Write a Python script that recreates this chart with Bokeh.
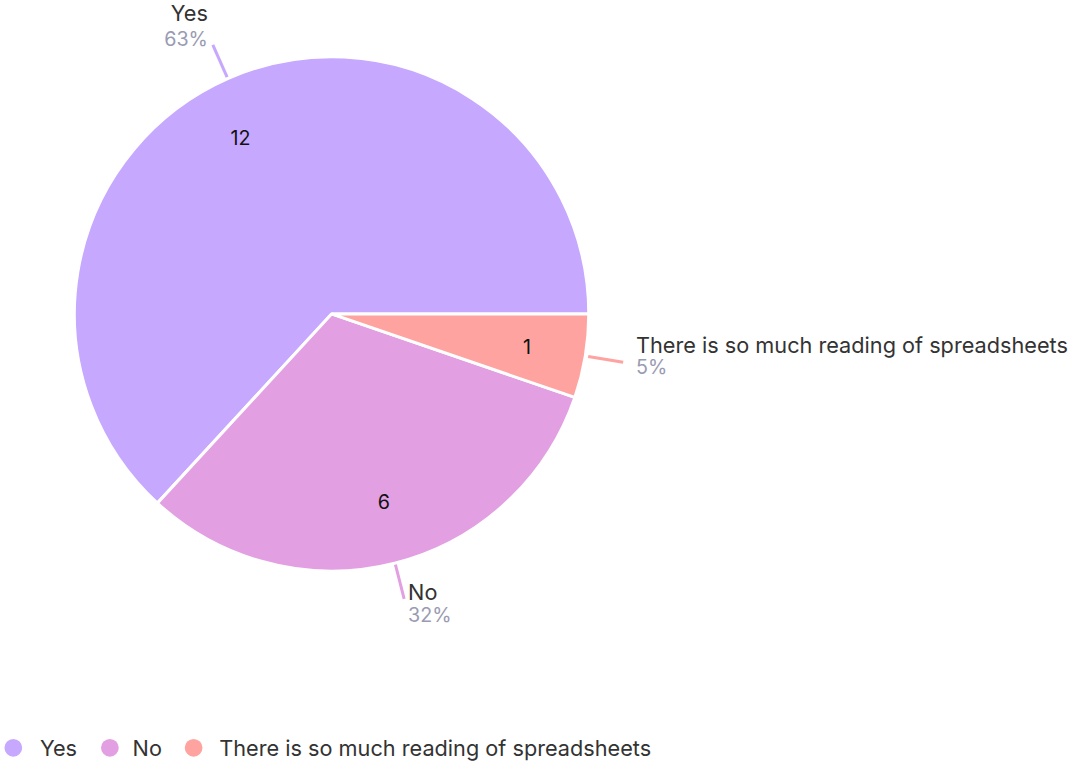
import math
from bokeh.plotting import figure
from bokeh.models import Range1d, ColumnDataSource
from bokeh.core.properties import value
from bokeh.embed import file_html
from bokeh.resources import INLINE

# ---- data ----
categories = ["Yes", "No", "There is so much reading of spreadsheets"]
counts = [12, 6, 1]
colors = ["#C6A8FE", "#E29FE2", "#FEA39F"]

# ---- layout / style (reference pixel units, y measured from top) ----
FONT = "Inter"
W, H = 1076, 762
REF_W, REF_H = 1092, 778
S = W / REF_W


def fs(px_size):
    return f"{px_size * S:.1f}px"


def ry(ref_y):
    # data y from reference top-down pixel
    return REF_H - ref_y


CX, CY, R = 336, ry(320), 261
INNER_R = 200
LEAD_R0, LEAD_R1 = 264, 300
# inner label nudges (dx, dy down)
INNER_NUDGE = [(-12, 3), (4, -2), (1, 0)]
# outer label offsets from leader end: dx, name dy (down), pct dy (down), align
LABEL_STYLE = [
    (-5, -32, -6, "right"),
    (4, -7, 17, "left"),
    (13, -18, 5, "left"),
]
LEGEND_Y = 763
LEGEND_CIRCLE_X = [13, 111, 196]
LEGEND_TEXT_X = [40, 134, 222]

total = sum(counts)
starts, ends, mids = [], [], []
acc = 0.0
for c in counts:
    a0 = acc / total * 2 * math.pi
    acc += c
    a1 = acc / total * 2 * math.pi
    starts.append(a0)
    ends.append(a1)
    mids.append((a0 + a1) / 2)
percents = [f"{round(c / total * 100)}%" for c in counts]

p = figure(width=W, height=H, x_range=Range1d(0, REF_W), y_range=Range1d(0, REF_H),
           output_backend="svg", toolbar_location=None, min_border=0)
p.axis.visible = False
p.grid.visible = False
p.outline_line_color = None
p.background_fill_color = "white"
p.border_fill_color = "white"

src = ColumnDataSource(dict(start=starts, end=ends, color=colors, cat=categories))
p.wedge(x=CX, y=CY, radius=R, start_angle="start", end_angle="end", fill_color="color",
        line_color="white", line_width=3, direction="anticlock", source=src)

# inner count labels
ix = [CX + INNER_R * math.cos(m) + INNER_NUDGE[i][0] for i, m in enumerate(mids)]
iy = [CY + INNER_R * math.sin(m) - INNER_NUDGE[i][1] for i, m in enumerate(mids)]
p.text(x=ix, y=iy, text=[str(c) for c in counts], text_align="center", text_baseline="middle",
       text_font=value(FONT), text_font_size=fs(20), text_color="#111111")

# leader lines and outer labels
for i, m in enumerate(mids):
    x0, y0 = CX + LEAD_R0 * math.cos(m), CY + LEAD_R0 * math.sin(m)
    x1, y1 = CX + LEAD_R1 * math.cos(m), CY + LEAD_R1 * math.sin(m)
    p.segment(x0=[x0], y0=[y0], x1=[x1], y1=[y1], line_color=colors[i], line_width=3)
    dx, ndy, pdy, align = LABEL_STYLE[i]
    p.text(x=[x1 + dx], y=[y1 - ndy], text=[categories[i]], text_align=align, text_baseline="middle",
           text_font=value(FONT), text_font_size=fs(22), text_color="#333333")
    p.text(x=[x1 + dx], y=[y1 - pdy], text=[percents[i]], text_align=align, text_baseline="middle",
           text_font=value(FONT), text_font_size=fs(20), text_color="#9A9BB2")

# legend
ly = ry(LEGEND_Y)
p.scatter(x=LEGEND_CIRCLE_X, y=[ly] * 3, size=18 * S, marker="circle", fill_color=colors,
          line_color=None)
p.text(x=LEGEND_TEXT_X, y=[ly] * 3, text=categories, text_align="left", text_baseline="middle",
       text_font=value(FONT), text_font_size=fs(22), text_color="#333333")

open("out.html", "w").write(file_html(p, INLINE))
